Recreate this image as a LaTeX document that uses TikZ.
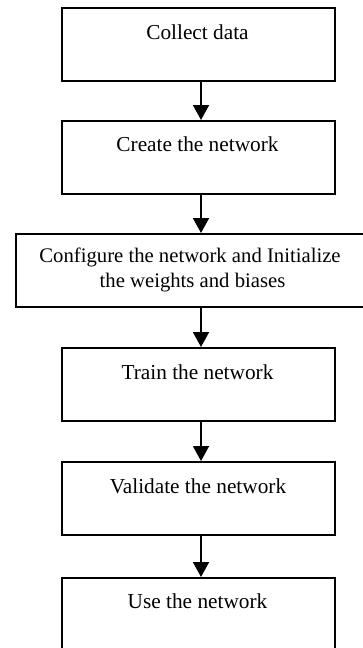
\documentclass[tikz,border=0pt]{standalone}
\usepackage{fontspec}
\setmainfont{Liberation Serif}
\usetikzlibrary{arrows.meta}
\begin{document}
\begin{tikzpicture}[x=1pt,y=-1pt,
  stepbox/.style={draw=black,line width=1.9pt,rectangle,minimum width=273pt,minimum height=73pt,inner sep=0pt,anchor=north west},
  widebox/.style={stepbox,minimum width=360pt},
  lbl/.style={anchor=base,inner sep=0pt,font=\fontsize{21.3}{25}\selectfont,align=center},
  lblsmall/.style={lbl,font=\fontsize{20.7}{25}\selectfont},
  flow/.style={line width=1.9pt,-{Triangle[width=16pt,length=15pt]}}]
\useasboundingbox (0,0) rectangle (362,648);
\node[stepbox] (b1) at (61,7) {};
\node[stepbox] (b2) at (61,120) {};
\node[widebox] (b3) at (15,233) {};
\node[stepbox] (b4) at (61,347) {};
\node[stepbox] (b5) at (61,461) {};
\node[stepbox,minimum height=90pt] (b6) at (61,577) {};
\node[lbl] (t1) at (197.5,39) {Collect data};
\node[lbl] (t2) at (197.5,151.5) {Create the network};
\node[lblsmall] (t3a) at (190,262) {Configure the network and Initialize};
\node[lblsmall] (t3b) at (192.5,287) {the weights and biases};
\node[lbl] (t4) at (197.5,379) {Train the network};
\node[lbl] (t5) at (198,493) {Validate the network};
\node[lbl] (t6) at (197.5,608.5) {Use the network};
\draw[flow] (b1.south west) ++(140,0) coordinate (a1) -- (a1 |- b2.north);
\draw[flow] (b2.south west) ++(140,0) coordinate (a2) -- (a2 |- b3.north);
\draw[flow] (b3.south west) ++(186,0) coordinate (a3) -- (a3 |- b4.north);
\draw[flow] (b4.south west) ++(140,0) coordinate (a4) -- (a4 |- b5.north);
\draw[flow] (b5.south west) ++(140,0) coordinate (a5) -- (a5 |- b6.north);
\end{tikzpicture}
\end{document}
